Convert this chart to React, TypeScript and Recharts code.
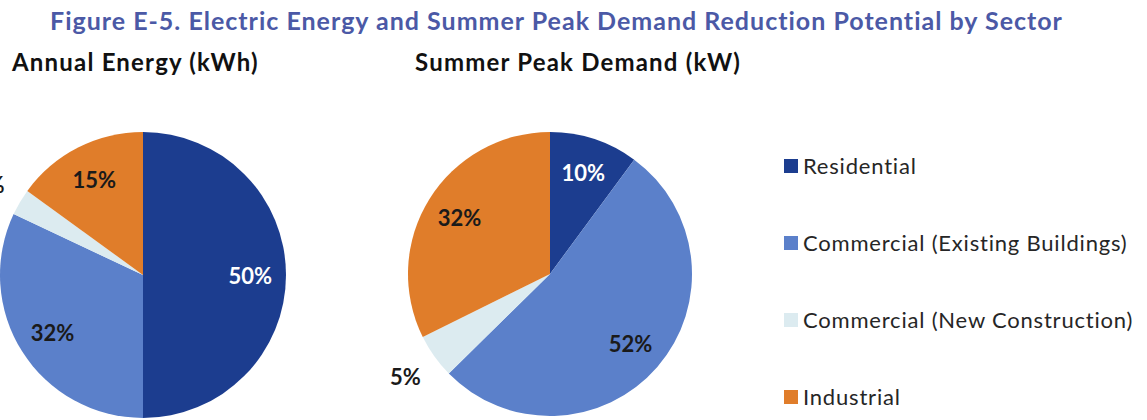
import React from 'react';
import { PieChart, Pie, Cell, Legend } from 'recharts';

const sectors = ['Residential', 'Commercial (Existing Buildings)', 'Commercial (New Construction)', 'Industrial'];
const energyShares = [50, 32, 3, 15];
const peakShares = [10, 52, 5, 32];
const sectorColors = ['#1c3d8f', '#5b80ca', '#dcebf0', '#e07d2a'];
const labelColors = ['#ffffff', '#1a1a1a', '#1a1a1a', '#1a1a1a'];

const title = 'Figure E-5. Electric Energy and Summer Peak Demand Reduction Potential by Sector';
const energyTitle = 'Annual Energy (kWh)';
const peakTitle = 'Summer Peak Demand (kW)';

const energyData = sectors.map((name, i) => ({ name, value: energyShares[i] }));
const peakData = sectors.map((name, i) => ({ name, value: peakShares[i] }));

const RADIAN = Math.PI / 180;

const renderLabel = (props: any) => {
  const { cx, cy, midAngle, outerRadius, index, value } = props;
  const factor = index === 2 ? 1.25 : 0.75;
  const r = outerRadius * factor;
  const x = cx + r * Math.cos(-midAngle * RADIAN);
  const y = cy + r * Math.sin(-midAngle * RADIAN);
  return (
    <text
      x={x}
      y={y}
      fill={labelColors[index]}
      textAnchor="middle"
      dominantBaseline="central"
      fontFamily="Lato"
      fontWeight={700}
      fontSize={22}
    >
      {`${value}%`}
    </text>
  );
};

const renderLegend = () => (
  <div style={{ fontFamily: 'Lato' }}>
    {sectors.map((s, i) => (
      <div key={s} style={{ height: 77, display: 'flex', alignItems: 'center' }}>
        <div style={{ width: 14, height: 14, background: sectorColors[i], marginRight: 5 }} />
        <span style={{ fontSize: 22, letterSpacing: 0.8, color: '#262626', whiteSpace: 'nowrap' }}>{s}</span>
      </div>
    ))}
  </div>
);

const headStyle: React.CSSProperties = {
  position: 'absolute',
  top: 47,
  fontSize: 24,
  letterSpacing: 1.2,
  fontWeight: 700,
  color: '#111',
  whiteSpace: 'nowrap',
  lineHeight: '30px',
};

export default function App() {
  return (
    <div
      style={{
        position: 'absolute',
        left: 0,
        top: 0,
        width: 1147,
        height: 420,
        background: '#ffffff',
        overflow: 'hidden',
        fontFamily: 'Lato',
      }}
    >
      <div
        style={{
          position: 'absolute',
          left: 50,
          top: 5,
          fontSize: 25,
          letterSpacing: 1,
          fontWeight: 700,
          color: '#4b59a6',
          whiteSpace: 'nowrap',
          lineHeight: '30px',
        }}
      >
        {title}
      </div>
      <div style={{ ...headStyle, left: 12 }}>{energyTitle}</div>
      <div style={{ ...headStyle, left: 415 }}>{peakTitle}</div>
      <div style={{ position: 'absolute', left: 0, top: 0 }}>
        <PieChart width={1147} height={420} margin={{ top: 0, right: 0, bottom: 0, left: 0 }}>
          <Pie
            data={energyData}
            dataKey="value"
            nameKey="name"
            cx={143}
            cy={275}
            outerRadius={143}
            startAngle={90}
            endAngle={-270}
            stroke="none"
            label={renderLabel}
            labelLine={false}
            isAnimationActive={false}
          >
            {energyData.map((d, i) => (
              <Cell key={d.name} fill={sectorColors[i]} />
            ))}
          </Pie>
          <Pie
            data={peakData}
            dataKey="value"
            nameKey="name"
            cx={550}
            cy={274}
            outerRadius={142}
            startAngle={90}
            endAngle={-270}
            stroke="none"
            label={renderLabel}
            labelLine={false}
            isAnimationActive={false}
          >
            {peakData.map((d, i) => (
              <Cell key={d.name} fill={sectorColors[i]} />
            ))}
          </Pie>
          <Legend
            content={renderLegend}
            layout="vertical"
            wrapperStyle={{ position: 'absolute', left: 784, top: 127, width: 360 }}
          />
        </PieChart>
      </div>
    </div>
  );
}
